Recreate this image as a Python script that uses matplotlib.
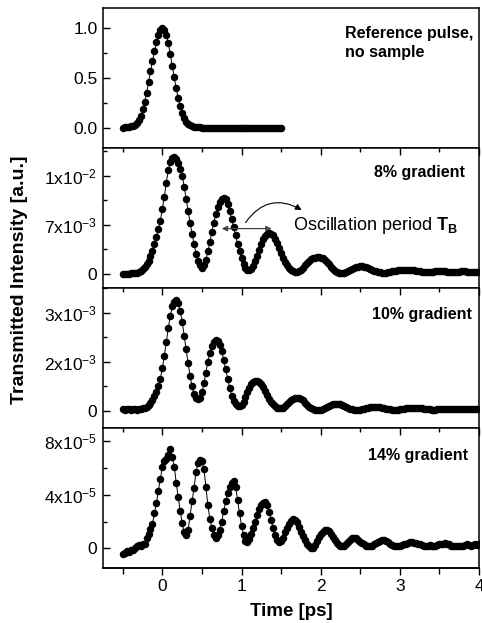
import numpy as np
import matplotlib
matplotlib.use("Agg")
import matplotlib.pyplot as plt
from matplotlib.ticker import MultipleLocator

plt.rcParams["font.family"] = "Liberation Sans"
plt.rcParams["mathtext.fontset"] = "custom"
plt.rcParams["mathtext.rm"] = "Liberation Sans"
plt.rcParams["mathtext.bf"] = "Liberation Sans:bold"
plt.rcParams["mathtext.default"] = "regular"

# sampling grid of the scans (ps)
t_ref = np.round(np.arange(81) * 0.025 - 0.5, 3)
t_scan = np.round(np.arange(181) * 0.025 - 0.5, 3)

# reference pulse, no sample (normalised)
ref_pulse = [
    0.006, 0.007, 0.009, 0.012, 0.017, 0.025, 0.036, 0.055, 0.080, 0.120,
    0.190, 0.260, 0.350, 0.460, 0.570, 0.670, 0.770, 0.860, 0.930, 0.980,
    1.000, 0.985, 0.935, 0.850, 0.740, 0.620, 0.510, 0.400, 0.300, 0.220,
    0.150, 0.100, 0.065, 0.042, 0.028, 0.019, 0.013, 0.010, 0.008, 0.007,
    0.006, 0.006, 0.005, 0.005, 0.005, 0.005, 0.005, 0.005, 0.005, 0.005,
    0.005, 0.005, 0.005, 0.005, 0.005, 0.005, 0.005, 0.005, 0.005, 0.005,
    0.005, 0.005, 0.005, 0.005, 0.005, 0.005, 0.005, 0.005, 0.005, 0.005,
    0.005, 0.005, 0.005, 0.005, 0.005, 0.005, 0.005, 0.005, 0.005, 0.005,
    0.005,
]

# 8% gradient, units of 1e-3
grad8 = [
    0.05, 0.05, 0.05, 0.06, 0.08, 0.10, 0.13, 0.18, 0.28, 0.45,
    0.70, 1.00, 1.40, 1.90, 2.50, 3.30, 4.30, 5.30, 6.40, 7.60,
    9.30, 11.0, 13.0, 14.8, 15.9, 16.5, 16.6, 16.3, 15.8, 15.0,
    14.0, 12.4, 10.7, 9.00, 7.30, 5.70, 4.30, 2.90, 1.90, 1.20,
    0.90, 1.20, 2.00, 3.20, 4.50, 6.00, 7.30, 8.50, 9.50, 10.3,
    10.7, 10.85, 10.6, 9.90, 8.90, 7.80, 6.70, 5.50, 4.30, 3.20,
    2.20, 1.40, 0.90, 0.60, 0.50, 0.65, 1.10, 1.80, 2.60, 3.40,
    4.20, 4.90, 5.40, 5.70, 5.80, 5.75, 5.50, 5.00, 4.40, 3.70,
    3.00, 2.30, 1.70, 1.20, 0.80, 0.50, 0.35, 0.30, 0.30, 0.40,
    0.60, 0.90, 1.25, 1.60, 1.90, 2.10, 2.25, 2.30, 2.35, 2.35,
    2.30, 2.20, 2.00, 1.70, 1.35, 1.00, 0.70, 0.45, 0.30, 0.20,
    0.15, 0.15, 0.20, 0.30, 0.45, 0.60, 0.75, 0.90, 1.00, 1.05,
    1.10, 1.10, 1.05, 0.95, 0.85, 0.70, 0.55, 0.45, 0.35, 0.30,
    0.25, 0.20, 0.20, 0.20, 0.25, 0.30, 0.35, 0.40, 0.45, 0.50,
    0.55, 0.55, 0.60, 0.60, 0.60, 0.55, 0.55, 0.50, 0.45, 0.40,
    0.35, 0.30, 0.25, 0.25, 0.25, 0.25, 0.30, 0.30, 0.35, 0.35,
    0.40, 0.40, 0.35, 0.35, 0.30, 0.30, 0.25, 0.25, 0.25, 0.30,
    0.30, 0.35, 0.35, 0.35, 0.30, 0.30, 0.25, 0.25, 0.25, 0.25,
    0.25,
]

# 10% gradient, units of 1e-3
grad10 = [
    0.05, 0.04, 0.06, 0.05, 0.04, 0.06, 0.05, 0.04, 0.06, 0.07,
    0.08, 0.10, 0.12, 0.18, 0.26, 0.36, 0.48, 0.62, 0.80, 1.05,
    1.40, 1.80, 2.25, 2.70, 3.10, 3.40, 3.55, 3.60, 3.50, 3.25,
    2.90, 2.45, 2.00, 1.55, 1.15, 0.80, 0.55, 0.42, 0.38, 0.42,
    0.60, 0.90, 1.25, 1.60, 1.90, 2.12, 2.25, 2.30, 2.28, 2.15,
    1.95, 1.65, 1.35, 1.05, 0.75, 0.50, 0.32, 0.22, 0.17, 0.16,
    0.20, 0.30, 0.45, 0.60, 0.75, 0.87, 0.95, 0.98, 0.98, 0.95,
    0.88, 0.78, 0.65, 0.52, 0.40, 0.30, 0.22, 0.15, 0.11, 0.09,
    0.08, 0.10, 0.15, 0.22, 0.30, 0.36, 0.40, 0.43, 0.43, 0.42,
    0.39, 0.34, 0.27, 0.20, 0.14, 0.09, 0.06, 0.04, 0.03, 0.03,
    0.04, 0.06, 0.09, 0.13, 0.16, 0.19, 0.21, 0.22, 0.22, 0.22,
    0.21, 0.19, 0.16, 0.13, 0.10, 0.07, 0.05, 0.04, 0.03, 0.03,
    0.04, 0.05, 0.07, 0.09, 0.11, 0.12, 0.13, 0.13, 0.13, 0.13,
    0.12, 0.11, 0.09, 0.07, 0.06, 0.05, 0.04, 0.04, 0.04, 0.04,
    0.05, 0.06, 0.07, 0.08, 0.09, 0.10, 0.10, 0.10, 0.10, 0.10,
    0.09, 0.08, 0.07, 0.06, 0.05, 0.05, 0.04, 0.04, 0.04, 0.05,
    0.05, 0.06, 0.06, 0.07, 0.07, 0.07, 0.07, 0.06, 0.06, 0.05,
    0.05, 0.05, 0.05, 0.05, 0.05, 0.05, 0.05, 0.05, 0.05, 0.05,
    0.05,
]

# 14% gradient, units of 1e-5
grad14 = [
    -0.45, -0.35, -0.20, -0.25, -0.10, -0.15, 0.05, 0.20, 0.25, 0.20,
    0.35, 0.30, 0.75, 1.05, 1.45, 1.85, 2.60, 3.40, 4.30, 5.20,
    6.10, 6.50, 6.70, 7.00, 7.40, 6.80, 6.10, 4.90, 3.80, 2.80,
    1.90, 1.20, 1.00, 1.40, 2.40, 3.50, 4.50, 5.70, 6.40, 6.60,
    6.50, 5.90, 4.60, 3.20, 2.20, 1.50, 1.00, 0.80, 1.00, 1.40,
    2.00, 2.80, 3.50, 4.10, 4.60, 4.90, 5.00, 4.60, 3.60, 2.60,
    1.70, 1.00, 0.55, 0.45, 0.70, 1.10, 1.50, 2.00, 2.50, 2.90,
    3.20, 3.40, 3.45, 3.20, 2.70, 2.10, 1.50, 1.00, 0.65, 0.50,
    0.55, 0.80, 1.20, 1.50, 1.80, 2.05, 2.20, 2.15, 1.95, 1.60,
    1.25, 0.90, 0.60, 0.35, 0.20, 0.05, 0.05, 0.25, 0.55, 0.85,
    1.10, 1.25, 1.35, 1.40, 1.30, 1.10, 0.85, 0.60, 0.40, 0.25,
    0.20, 0.15, 0.20, 0.35, 0.50, 0.65, 0.75, 0.80, 0.75, 0.65,
    0.50, 0.40, 0.30, 0.20, 0.15, 0.15, 0.20, 0.30, 0.40, 0.50,
    0.55, 0.60, 0.60, 0.55, 0.45, 0.35, 0.25, 0.20, 0.15, 0.15,
    0.20, 0.25, 0.30, 0.35, 0.40, 0.45, 0.45, 0.40, 0.40, 0.35,
    0.30, 0.25, 0.20, 0.15, 0.20, 0.25, 0.20, 0.15, 0.20, 0.25,
    0.30, 0.30, 0.35, 0.40, 0.35, 0.30, 0.20, 0.15, 0.20, 0.15,
    0.20, 0.15, 0.20, 0.25, 0.30, 0.25, 0.20, 0.25, 0.30, 0.25,
    0.30,
]

panel_labels = ["Reference pulse,\nno sample", "8% gradient", "10% gradient", "14% gradient"]
ytick_vals = [[0.0, 0.5, 1.0], [0, 7e-3, 14e-3], [0, 1.6e-3, 3.2e-3], [0, 4e-5, 8e-5]]
ytick_text = [
    ["0.0", "0.5", "1.0"],
    ["0", "7x10$^{-3}$", "1x10$^{-2}$"],
    ["0", "2x10$^{-3}$", "3x10$^{-3}$"],
    ["0", "4x10$^{-5}$", "8x10$^{-5}$"],
]
ylims = [(-0.2, 1.2), (-2.0e-3, 17.9e-3), (-0.55e-3, 4.0e-3), (-1.45e-5, 9.0e-5)]

series = [
    (t_ref, np.array(ref_pulse)),
    (t_scan, np.array(grad8) * 1e-3),
    (t_scan, np.array(grad10) * 1e-3),
    (t_scan, np.array(grad14) * 1e-5),
]

fig, axes = plt.subplots(4, 1, sharex=True, figsize=(4.82, 6.23), dpi=100)
fig.subplots_adjust(left=0.2137, right=0.9938, top=0.9867, bottom=0.0888, hspace=0)

for i, ax in enumerate(axes):
    x, y = series[i]
    ax.plot(x, y, "-o", color="black", lw=0.7, ms=5.4, mew=0)
    ax.set_ylim(*ylims[i])
    ax.set_yticks(ytick_vals[i], ytick_text[i])
    step = ytick_vals[i][1] / 2
    ax.yaxis.set_minor_locator(MultipleLocator(step))
    for s in ax.spines.values():
        s.set_linewidth(1.1)
    ax.tick_params(axis="y", which="both", direction="in", left=True, right=False,
                   labelsize=12.5, pad=4, width=1.0)
    ax.tick_params(axis="y", which="major", length=5)
    ax.tick_params(axis="y", which="minor", length=3)
    if i == 0:
        ax.tick_params(axis="x", which="both", top=False, bottom=False, labelbottom=False)
    else:
        ax.tick_params(axis="x", which="both", top=True, bottom=False, direction="in",
                       labelbottom=False, width=1.0)
        ax.tick_params(axis="x", which="major", length=5)
        ax.tick_params(axis="x", which="minor", length=3)

ax_b = axes[3]
ax_b.set_xlim(-0.75, 4.0)
ax_b.xaxis.set_major_locator(MultipleLocator(1))
ax_b.xaxis.set_minor_locator(MultipleLocator(0.5))
sec = ax_b.secondary_xaxis("bottom")
sec.xaxis.set_major_locator(MultipleLocator(1))
sec.xaxis.set_minor_locator(MultipleLocator(0.5))
sec.tick_params(axis="x", which="both", direction="out", labelsize=12.5, width=1.0, pad=3)
sec.tick_params(axis="x", which="major", length=5)
sec.tick_params(axis="x", which="minor", length=4)
sec.spines["bottom"].set_linewidth(1.1)

# panel captions
axes[0].text(0.644, 0.874, panel_labels[0], transform=axes[0].transAxes, ha="left", va="top",
             fontsize=11.5, fontweight="bold", linespacing=1.35)
axes[1].text(0.963, 0.824, panel_labels[1], transform=axes[1].transAxes, ha="right", va="center",
             fontsize=11.5, fontweight="bold")
axes[2].text(0.98, 0.812, panel_labels[2], transform=axes[2].transAxes, ha="right", va="center",
             fontsize=11.5, fontweight="bold")
axes[3].text(0.972, 0.80, panel_labels[3], transform=axes[3].transAxes, ha="right", va="center",
             fontsize=11.5, fontweight="bold")

# oscillation period annotation
ax2 = axes[1]
ax2.annotate("", xy=(0.75, 6.45e-3), xytext=(1.38, 6.45e-3),
             arrowprops=dict(arrowstyle="<|-|>", color="#444444", lw=0.9,
                             mutation_scale=8, shrinkA=0, shrinkB=0))
ax2.annotate("", xy=(1.76, 9.1e-3), xytext=(1.05, 7.3e-3),
             arrowprops=dict(arrowstyle="-|>", color="black", lw=0.8, mutation_scale=9,
                             connectionstyle="arc3,rad=-0.45", shrinkA=0, shrinkB=0))
ax2.text(1.646, 6.9e-3, r"Oscillation period $\mathbf{T_B}$", fontsize=13, ha="left", va="center")

fig.text(20 / 482, 1 - 280 / 623, "Transmitted Intensity [a.u.]", rotation=90, ha="center",
         va="center", fontsize=14, fontweight="bold")
fig.text(291 / 482, 1 - 612 / 623, "Time [ps]", ha="center", va="center",
         fontsize=13.5, fontweight="bold")

fig.savefig("out.png", dpi=100)
